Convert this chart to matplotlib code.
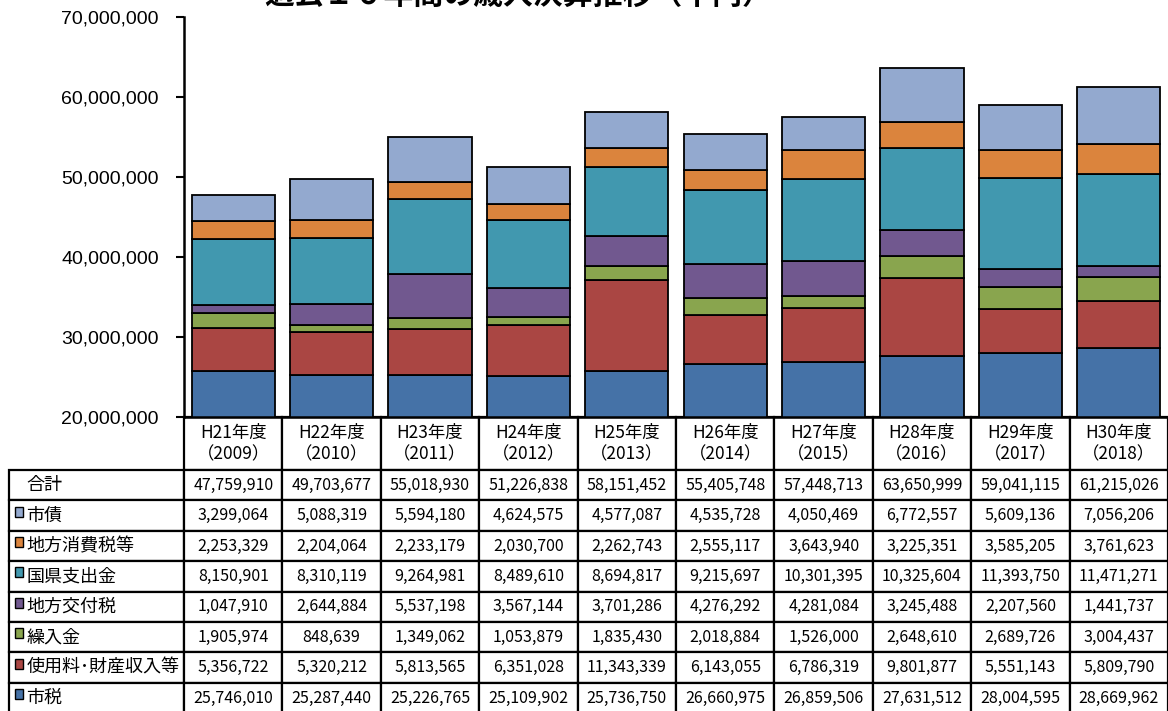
import matplotlib
matplotlib.use("Agg")
import matplotlib.pyplot as plt
from matplotlib.table import Table
from matplotlib.patches import Rectangle
from matplotlib.ticker import FuncFormatter

plt.rcParams['font.family'] = ['Noto Sans CJK JP', 'DejaVu Sans']

# data (thousand yen)
years = ["H21年度\n（2009）", "H22年度\n（2010）", "H23年度\n（2011）", "H24年度\n（2012）",
         "H25年度\n（2013）", "H26年度\n（2014）", "H27年度\n（2015）", "H28年度\n（2016）",
         "H29年度\n（2017）", "H30年度\n（2018）"]

shizei = [25746010, 25287440, 25226765, 25109902, 25736750, 26660975, 26859506, 27631512, 28004595, 28669962]
shiyoryo = [5356722, 5320212, 5813565, 6351028, 11343339, 6143055, 6786319, 9801877, 5551143, 5809790]
kurirekin = [1905974, 848639, 1349062, 1053879, 1835430, 2018884, 1526000, 2648610, 2689726, 3004437]
kofuzei = [1047910, 2644884, 5537198, 3567144, 3701286, 4276292, 4281084, 3245488, 2207560, 1441737]
kokenshishutsu = [8150901, 8310119, 9264981, 8489610, 8694817, 9215697, 10301395, 10325604, 11393750, 11471271]
shohizei = [2253329, 2204064, 2233179, 2030700, 2262743, 2555117, 3643940, 3225351, 3585205, 3761623]
shisai = [3299064, 5088319, 5594180, 4624575, 4577087, 4535728, 4050469, 6772557, 5609136, 7056206]
total = [47759910, 49703677, 55018930, 51226838, 58151452, 55405748, 57448713, 63650999, 59041115, 61215026]

# bottom-to-top stacking order
series = [
    ("市税", shizei, "#4572A7"),
    ("使用料･財産収入等", shiyoryo, "#AA4643"),
    ("繰入金", kurirekin, "#89A54E"),
    ("地方交付税", kofuzei, "#71588F"),
    ("国県支出金", kokenshishutsu, "#4198AF"),
    ("地方消費税等", shohizei, "#DB843D"),
    ("市債", shisai, "#93A9CF"),
]

W, H = 1168, 711
fig = plt.figure(figsize=(W / 100, H / 100), dpi=100)
ax_l, ax_r, ax_t, ax_b = 184, 1168, 17, 417
ax = fig.add_axes([ax_l / W, 1 - ax_b / H, (ax_r - ax_l) / W, (ax_b - ax_t) / H])

x = list(range(len(years)))
bottom = [0] * len(years)
for name, vals, col in series:
    ax.bar(x, vals, 0.845, bottom=bottom, color=col, edgecolor="black", linewidth=1.3, zorder=2)
    bottom = [b + v for b, v in zip(bottom, vals)]

ax.set_xlim(-0.5, len(years) - 0.5)
ax.set_ylim(20000000, 70000000)
ax.set_yticks(range(20000000, 70000001, 10000000))
ax.yaxis.set_major_formatter(FuncFormatter(lambda v, p: f"{int(v):,}"))
for lab in ax.get_yticklabels():
    lab.set_family("Liberation Sans")
    lab.set_fontsize(14)
ax.tick_params(axis="y", direction="out", length=6, width=1.5, pad=12)
ax.set_xticks([])
for s in ["top", "right"]:
    ax.spines[s].set_visible(False)
ax.spines["left"].set_linewidth(1.8)
ax.spines["bottom"].set_linewidth(1.8)

# data table under the chart
lab_w = 175
col_w = (ax_r - ax_l) / len(years)
head_h = 53
row_h = 30.4
rows = [("合計", total, None)] + [(n, v, c) for n, v, c in reversed(series)]
tot_h = head_h + row_h * len(rows)
tot_w = lab_w + col_w * len(years)
pw, ph = ax_r - ax_l, ax_b - ax_t
tbl = Table(ax, bbox=[-lab_w / pw, -tot_h / ph, tot_w / pw, tot_h / ph])

c = tbl.add_cell(0, 0, lab_w, head_h, text="")
c.visible_edges = ""
for j, yl in enumerate(years):
    c = tbl.add_cell(0, j + 1, col_w, head_h, text=yl, loc="center")
    c.get_text().set_fontsize(12.5)
    c.get_text().set_linespacing(1.2)
for i, (name, vals, col) in enumerate(rows):
    c = tbl.add_cell(i + 1, 0, lab_w, row_h, text=name, loc="left")
    c.get_text().set_fontsize(13)
    for j, v in enumerate(vals):
        c = tbl.add_cell(i + 1, j + 1, col_w, row_h, text=f"{v:,}", loc="center")
        c.get_text().set_fontsize(11.5)
for cell in tbl.get_celld().values():
    cell.set_linewidth(1.6)
    cell.set_edgecolor("black")
tbl.auto_set_font_size(False)
tbl.set_clip_on(False)
ax.add_table(tbl)

# legend keys inside the row labels
for i, (name, vals, col) in enumerate(rows):
    if col is None:
        continue
    y_mid = ax_b + head_h + row_h * (i + 0.5) - 4
    ax.add_patch(Rectangle(((15 - ax_l) / pw, (ax_b - (y_mid + 5)) / ph), 8 / pw, 10 / ph,
                           transform=ax.transAxes, facecolor=col, edgecolor="black",
                           linewidth=1.0, clip_on=False, zorder=5))

fig.text(518 / W, 1 - 10 / H, "過去１０年間の歳入決算推移（千円）", ha="center", va="bottom",
         fontsize=21.5, fontweight="bold")

fig.savefig("out.png", dpi=100)
